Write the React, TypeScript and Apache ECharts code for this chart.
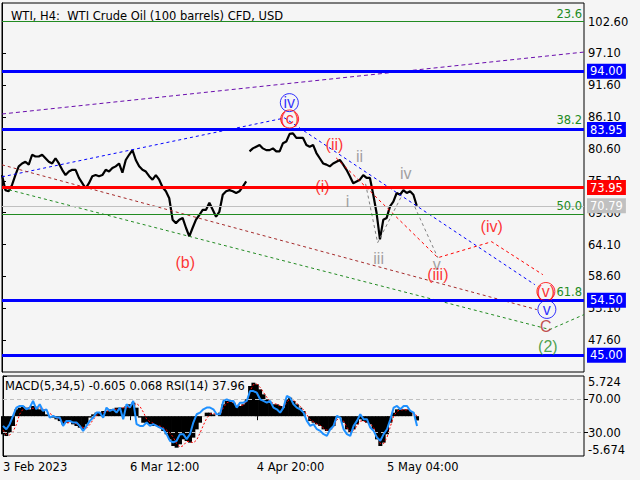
import React, { useEffect, useRef } from 'react';
import * as echarts from 'echarts';

const chartTitle = 'WTI, H4:  WTI Crude Oil (100 barrels) CFD, USD';
const indicatorTitle = 'MACD(5,34,5) -0.605 0.068 RSI(14) 37.96';

// closing prices, one sample per ~3 H4 bars
const price = [
  76.1, 73.5, 73.3, 74.4, 76.1, 77.6, 78.1, 78.4, 77.9, 79.6,
  79.3, 79.3, 79.6, 79.0, 78.4, 78.1, 79.0, 78.1, 77.0, 76.1,
  76.7, 77.0, 77.0, 75.6, 74.7, 73.8, 74.7, 75.9, 76.1, 75.9,
  76.1, 77.0, 76.7, 77.3, 77.6, 78.1, 76.5, 78.7, 79.6, 80.4,
  78.7, 77.6, 77.0, 76.7, 75.9, 75.3, 76.1, 75.3, 74.0, 73.3,
  72.1, 68.4, 67.8, 68.4, 68.7, 67.0, 65.5, 67.0, 68.4, 69.2,
  70.1, 70.1,
  71.3, 70.1, 68.9, 69.8, 72.7, 73.3, 73.5, 73.3, 73.0, 73.3,
  74.1, 75.0, 80.2, 80.7, 81.0, 81.3, 80.7, 80.4, 80.4, 80.7,
  80.2, 80.2, 81.6, 81.9, 83.2, 83.3, 82.5, 82.5, 82.5, 81.3,
  81.0, 81.3, 79.9, 79.0, 78.1, 77.9, 77.6, 78.1, 78.4, 78.7,
  77.9, 77.0, 75.9, 74.7, 75.0, 75.3, 76.1, 75.6, 75.6, 72.7,
  69.5, 65.0, 68.4, 68.7, 70.7, 71.5, 73.0, 72.7, 73.5, 73.0,
  73.3, 72.7, 70.8,
];
const gapIndex = 74; // weekend gap

const macd = [
  -2.58, -2.83, -2.35, -1.4, 0.97, 1.21, 1.45, 1.21, 0.97, 1.45,
  1.21, 0.97, 0.74, 0.26, 0, -0.2, -0.45, -0.7, -1.16, -0.93,
  -0.7, -1.16, -1.4, -1.64, -1.88, -1.16, -0.2, 0.26, 0.5, 0.5,
  0.74, 0.74, 0.97, 0.97, 1.21, 1.21, 1.21, 1.45, 1.69, 1.93,
  1.21, -0.2, -0.93, -0.93, -1.16, -1.4, -1.4, -1.64, -2.11, -2.58,
  -3.3, -4.25, -4.49, -4.01, -3.3, -3.54, -3.77, -3.06, -1.88, -0.93,
  0.02, 0.5,
  0.5, 0.26, 0, 0.5, 1.69, 2.16, 2.16, 1.93, 1.45, 1.45,
  1.69, 2.4, 4.3, 4.77, 4.54, 3.82, 3.11, 2.4, 1.93, 1.69,
  1.69, 1.45, 1.21, 2.4, 2.63, 2.16, 1.69, 1.21, 0.74, 0,
  -0.7, -0.93, -1.16, -1.4, -1.88, -2.11, -1.88, -1.4, -0.2, -0.2,
  -0.93, -1.88, -2.35, -1.88, -1.16, -0.45, -0.7, -0.93, -1.16, -1.88,
  -3.3, -4.25, -3.77, -2.58, -0.93, 0.5, 0.97, 0.97, 0.97, 0.97,
  0.74, 0.0, -0.605,
];

const signal = [
  -2.0, -2.6, -2.7, -2.2, -1.2, 0.3, 1.0, 1.3, 1.2, 1.1,
  1.3, 1.2, 1.0, 0.8, 0.4, 0.1, -0.2, -0.4, -0.7, -1.0,
  -0.9, -0.9, -1.1, -1.4, -1.6, -1.7, -1.2, -0.5, 0.1, 0.4,
  0.5, 0.7, 0.8, 0.9, 1.0, 1.1, 1.2, 1.2, 1.4, 1.6,
  1.8, 1.4, 0.6, -0.4, -0.8, -1.0, -1.3, -1.4, -1.6, -2.0,
  -2.4, -3.0, -3.9, -4.4, -4.2, -3.6, -3.6, -3.8, -3.4, -2.4,
  -1.3, -0.3,
  0.3, 0.4, 0.2, 0.3, 1.2, 1.9, 2.1, 2.0, 1.6, 1.5,
  1.6, 2.1, 3.6, 4.5, 4.6, 4.1, 3.4, 2.7, 2.1, 1.8,
  1.7, 1.5, 1.3, 2.0, 2.5, 2.3, 1.8, 1.4, 0.9, 0.2,
  -0.5, -0.8, -1.1, -1.3, -1.7, -2.0, -1.9, -1.5, -0.5, -0.3,
  -0.7, -1.6, -2.2, -2.0, -1.4, -0.7, -0.7, -0.9, -1.1, -1.6,
  -2.9, -3.9, -3.9, -3.0, -1.5, 0.0, 0.7, 0.9, 0.9, 0.9,
  0.8, 0.3, 0.068,
];

const rsi = [
  38, 34, 40, 50, 60, 62, 62, 58, 60, 68,
  58, 64, 56, 58, 48, 50, 48, 48, 38, 44,
  44, 42, 42, 38, 32, 38, 44, 48, 54, 54,
  48, 60, 56, 58, 54, 60, 46, 64, 60, 68,
  40, 38, 38, 42, 38, 40, 38, 36, 34, 28,
  20, 18, 20, 28, 28, 22, 28, 42, 52, 54,
  58, 60,
  60, 58, 52, 52, 68, 70, 68, 68, 60, 66,
  66, 68, 80, 80, 78, 70, 68, 66, 68, 60,
  58, 54, 60, 74, 72, 64, 60, 58, 54, 44,
  38, 40, 34, 32, 28, 26, 34, 38, 50, 48,
  34, 28, 26, 38, 44, 52, 46, 46, 36, 32,
  24, 20, 28, 34, 46, 60, 62, 58, 62, 62,
  56, 54, 37.96,
];

const totalSamples = 174;
const dateTicks = [0, 38, 76, 115];
const dateLabels = ['3 Feb 2023', '6 Mar 12:00', '4 Apr 20:00', '5 May 04:00'];
const priceTicks = [47.6, 53.1, 58.6, 64.1, 69.6, 75.1, 80.6, 86.1, 91.6, 97.1, 102.6];
const priceMin = 42.1;
const priceMax = 105.8;
const macdMin = -5.674;
const macdMax = 5.724;
const rsiMin = 1.7;
const rsiMax = 98.1;
const rsiLevels = [30, 70];

const blueLevels = [94.0, 83.95, 54.5, 45.0];
const redLevel = 73.95;
const bidLevel = 70.79;
const fibRatios = ['23.6', '38.2', '50.0', '61.8'];
const fibPrices = [102.6, 84.2, 69.4, 54.55];

// wave trend lines: [sample index, price]
const purpleLine = [[0, 86.64], [174, 97.33]];
const blueLine = [[0, 75.79], [84.5, 85.95], [159.3, 57.18]];
const brownLine = [[0, 77.86], [159.9, 52.87]];
const greenLine = [[2.1, 73.55], [163.8, 49.43], [174, 52.01]];
const redLine = [[99.9, 79.06], [130.3, 61.83], [146.4, 64.59], [161.7, 58.9]];
const grayLineA = [[108.7, 74.58], [112.3, 64.41], [119.5, 72.51]];
const grayLineB = [[123.4, 70.62], [130.3, 61.83]];

// wave labels: text, sample index, price, colour, circled
const waveLabels: [string, number, number, string, boolean][] = [
  ['iv', 85.9, 88.6, '#0000ff', true],
  ['(c)', 86.0, 85.78, '#ff0000', true],
  ['(ii)', 99.4, 81.32, '#ff0000', false],
  ['ii', 106.9, 79.23, '#8a8a8a', false],
  ['(i)', 95.8, 74.07, '#ff0000', false],
  ['i', 103.3, 71.48, '#8a8a8a', false],
  ['iv', 120.7, 76.31, '#8a8a8a', false],
  ['iii', 112.6, 61.66, '#8a8a8a', false],
  ['v', 130.0, 60.63, '#8a8a8a', false],
  ['(iii)', 130.3, 58.91, '#ff0000', false],
  ['(iv)', 146.4, 67.17, '#ff0000', false],
  ['(v)', 162.6, 56.0, '#ff0000', true],
  ['v', 162.9, 52.9, '#0000ff', true],
  ['C', 162.6, 50.0, '#b22222', false],
  ['(2)', 163.2, 46.54, '#228b22', false],
  ['(b)', 54.8, 61.0, '#ff0000', false],
];

const FONT = 'DejaVu Sans';

function boxLabel(text: string, bg: string) {
  return {
    show: true,
    position: 'end',
    formatter: text,
    color: '#ffffff',
    backgroundColor: bg,
    padding: [2, 3, 1, 3],
    fontSize: 11.5,
    fontFamily: FONT,
    distance: 3,
  };
}

function dashed(data: number[][], color: string, dash: number[]) {
  return {
    type: 'line',
    xAxisIndex: 0,
    yAxisIndex: 0,
    data,
    symbol: 'none',
    silent: true,
    z: 4,
    lineStyle: { color, width: 1, type: dash },
  };
}

export default function App() {
  const ref = useRef<HTMLDivElement>(null);
  useEffect(() => {
    document.body.style.margin = '0';
    document.body.style.background = '#f5f5f5';
    const chart = echarts.init(ref.current!, null, { renderer: 'svg' });
    const option: any = {
      animation: false,
      backgroundColor: '#f5f5f5',
      textStyle: { fontFamily: FONT },
      title: {
        text: chartTitle,
        left: 6,
        top: 5,
        textStyle: { fontSize: 11.5, fontWeight: 'normal', color: '#000', fontFamily: FONT },
      },
      graphic: [
        {
          type: 'text',
          left: 5,
          top: 380,
          z: 100,
          style: { text: indicatorTitle, fill: '#000', font: `11.5px "${FONT}"` },
        },
      ],
      grid: [
        { left: 2, right: 56, top: 3, height: 369, show: true, borderColor: '#000', borderWidth: 1, backgroundColor: '#f5f5f5' },
        { left: 2, right: 56, top: 376, height: 80, show: true, borderColor: '#000', borderWidth: 1, backgroundColor: '#f5f5f5' },
      ],
      xAxis: [
        { type: 'value', gridIndex: 0, min: 0, max: totalSamples, show: false },
        {
          type: 'value',
          gridIndex: 1,
          min: 0,
          max: totalSamples,
          axisLine: { show: false },
          splitLine: { show: false },
          axisTick: { show: true, customValues: dateTicks, length: 4, lineStyle: { color: '#000' } },
          axisLabel: {
            customValues: dateTicks,
            formatter: (v: number) => {
              const k = dateTicks.indexOf(Math.round(v));
              return k >= 0 ? dateLabels[k] : '';
            },
            align: 'left',
            margin: 5,
            color: '#000',
            fontSize: 11.5,
            fontFamily: FONT,
          },
        },
      ],
      yAxis: [
        {
          type: 'value',
          gridIndex: 0,
          position: 'right',
          min: priceMin,
          max: priceMax,
          axisLine: { show: true, lineStyle: { color: '#000' } },
          axisTick: { show: true, customValues: priceTicks, length: 4, lineStyle: { color: '#000' } },
          axisLabel: {
            customValues: priceTicks,
            formatter: (v: number) => v.toFixed(2),
            color: '#000',
            fontSize: 11.5,
            fontFamily: FONT,
            margin: 4,
          },
          splitLine: { show: false },
        },
        {
          type: 'value',
          gridIndex: 1,
          position: 'right',
          min: macdMin,
          max: macdMax,
          axisLine: { show: true, lineStyle: { color: '#000' } },
          axisTick: { show: true, customValues: [macdMin, macdMax], length: 4, lineStyle: { color: '#000' } },
          axisLabel: {
            customValues: [macdMin, macdMax],
            formatter: (v: number) => v.toFixed(3),
            color: '#000',
            fontSize: 11.5,
            fontFamily: FONT,
            margin: 4,
            verticalAlignMinLabel: 'bottom',
            verticalAlignMaxLabel: 'top',
          },
          splitLine: { show: false },
        },
        {
          type: 'value',
          gridIndex: 1,
          position: 'right',
          min: rsiMin,
          max: rsiMax,
          axisLine: { show: false },
          axisTick: { show: true, customValues: rsiLevels, length: 4, lineStyle: { color: '#000' } },
          axisLabel: {
            customValues: rsiLevels,
            formatter: (v: number) => v.toFixed(2),
            color: '#000',
            fontSize: 11.5,
            fontFamily: FONT,
            margin: 4,
          },
          splitLine: { show: false },
        },
      ],
      series: [
        {
          type: 'line',
          xAxisIndex: 0,
          yAxisIndex: 0,
          data: price.slice(0, gapIndex).map((p, i) => [i, p]),
          symbol: 'none',
          z: 3,
          lineStyle: { color: '#000', width: 2.2 },
        },
        {
          type: 'line',
          xAxisIndex: 0,
          yAxisIndex: 0,
          data: price.slice(gapIndex).map((p, k) => [k + gapIndex, p]),
          symbol: 'none',
          z: 3,
          lineStyle: { color: '#000', width: 2.2 },
          markLine: {
            silent: true,
            symbol: ['none', 'none'],
            animation: false,
            data: [
              ...fibPrices.map((p, k) => ({
                yAxis: p,
                lineStyle: { color: '#228b22', width: 1, type: 'solid' },
                label: {
                  show: true,
                  position: 'insideEndTop',
                  formatter: fibRatios[k],
                  color: '#228b22',
                  fontSize: 11.5,
                  fontFamily: FONT,
                  distance: 2,
                },
              })),
              { yAxis: bidLevel, lineStyle: { color: '#c0c0c0', width: 1, type: 'solid' }, label: boxLabel(bidLevel.toFixed(2), '#c0c0c0') },
              { yAxis: redLevel, lineStyle: { color: '#ff0000', width: 3, type: 'solid' }, label: boxLabel(redLevel.toFixed(2), '#ff0000') },
              ...blueLevels.map((p) => ({
                yAxis: p,
                lineStyle: { color: '#0000ff', width: 3, type: 'solid' },
                label: boxLabel(p.toFixed(2), '#0000ff'),
              })),
            ],
          },
        },
        dashed(purpleLine, '#6a0dad', [4, 3]),
        dashed(blueLine, '#0000ff', [3, 3]),
        dashed(brownLine, '#a52a2a', [3, 3]),
        dashed(greenLine, '#228b22', [3, 3]),
        dashed(redLine, '#ff0000', [3, 3]),
        dashed(grayLineA, '#808080', [3, 3]),
        dashed(grayLineB, '#808080', [3, 3]),
        {
          type: 'scatter',
          xAxisIndex: 0,
          yAxisIndex: 0,
          silent: true,
          z: 6,
          data: waveLabels.map(([text, i, p, color, ring]) => ({
            value: [i, p],
            name: text,
            symbol: 'circle',
            symbolSize: ring ? 18 : 1,
            itemStyle: ring
              ? { color: 'rgba(0,0,0,0)', borderColor: color, borderWidth: 1 }
              : { color: 'rgba(0,0,0,0)' },
            label: {
              show: true,
              position: 'inside',
              formatter: text,
              color,
              fontSize: 16,
              fontFamily: 'Liberation Sans',
            },
          })),
        },
        {
          type: 'bar',
          xAxisIndex: 1,
          yAxisIndex: 1,
          data: macd.map((v, i) => [i, v]),
          barWidth: 4,
          itemStyle: { color: '#000' },
          silent: true,
        },
        {
          type: 'line',
          xAxisIndex: 1,
          yAxisIndex: 1,
          data: signal.map((v, i) => [i, v]),
          symbol: 'none',
          z: 4,
          lineStyle: { color: '#ff0000', width: 1, type: [2, 2] },
        },
        {
          type: 'line',
          xAxisIndex: 1,
          yAxisIndex: 2,
          data: rsi.map((v, i) => [i, v]),
          symbol: 'none',
          z: 5,
          lineStyle: { color: '#1e90ff', width: 2 },
          markLine: {
            silent: true,
            symbol: ['none', 'none'],
            label: { show: false },
            data: rsiLevels.map((v) => ({ yAxis: v })),
            lineStyle: { color: '#c0c0c0', width: 1, type: [4, 3] },
          },
        },
      ],
    };
    chart.setOption(option);
    return () => chart.dispose();
  }, []);
  return <div ref={ref} style={{ width: 640, height: 480 }} />;
}
